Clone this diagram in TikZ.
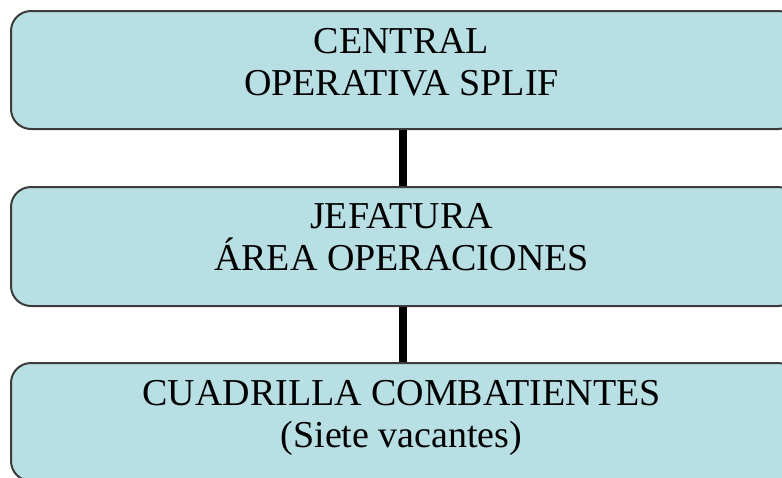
\documentclass[tikz,border=0pt]{standalone}
\usepackage{fontspec}
\setmainfont{Liberation Serif}
\definecolor{boxfill}{RGB}{184,223,227}
\definecolor{boxline}{RGB}{60,60,60}
\tikzset{
  orgbox/.style={draw=boxline, line width=2pt, fill=boxfill, rounded corners=20pt,
    minimum width=787pt, minimum height=118pt, inner sep=0pt},
  orgtext/.style={align=center, anchor=base, inner sep=0pt,
    font=\fontsize{38}{42}\selectfont},
  link/.style={line width=7.5pt, draw=black}
}
\begin{document}
\begin{tikzpicture}[x=1pt, y=-1pt]
\useasboundingbox (0,0) rectangle (782,477);
\clip (0,0) rectangle (782,477);
\node[orgbox] (top) at (404.5,70) {};
\node[orgbox, minimum height=119pt] (mid) at (404.5,246.5) {};
\node[orgbox] (bot) at (404.5,422) {};
\draw[link] ([xshift=-1.5pt]top.south) -- ([xshift=-1.5pt]mid.north);
\draw[link] ([xshift=-1.5pt]mid.south) -- ([xshift=-1.5pt]bot.north);
\node[orgtext] (ttop) at (401.5,95) {CENTRAL\\OPERATIVA SPLIF};
\node[orgtext] (tmid) at (401.5,270) {JEFATURA\\ÁREA OPERACIONES};
\node[orgtext] (tbot) at (401.5,447) {CUADRILLA COMBATIENTES\\(Siete vacantes)};
\end{tikzpicture}
\end{document}
